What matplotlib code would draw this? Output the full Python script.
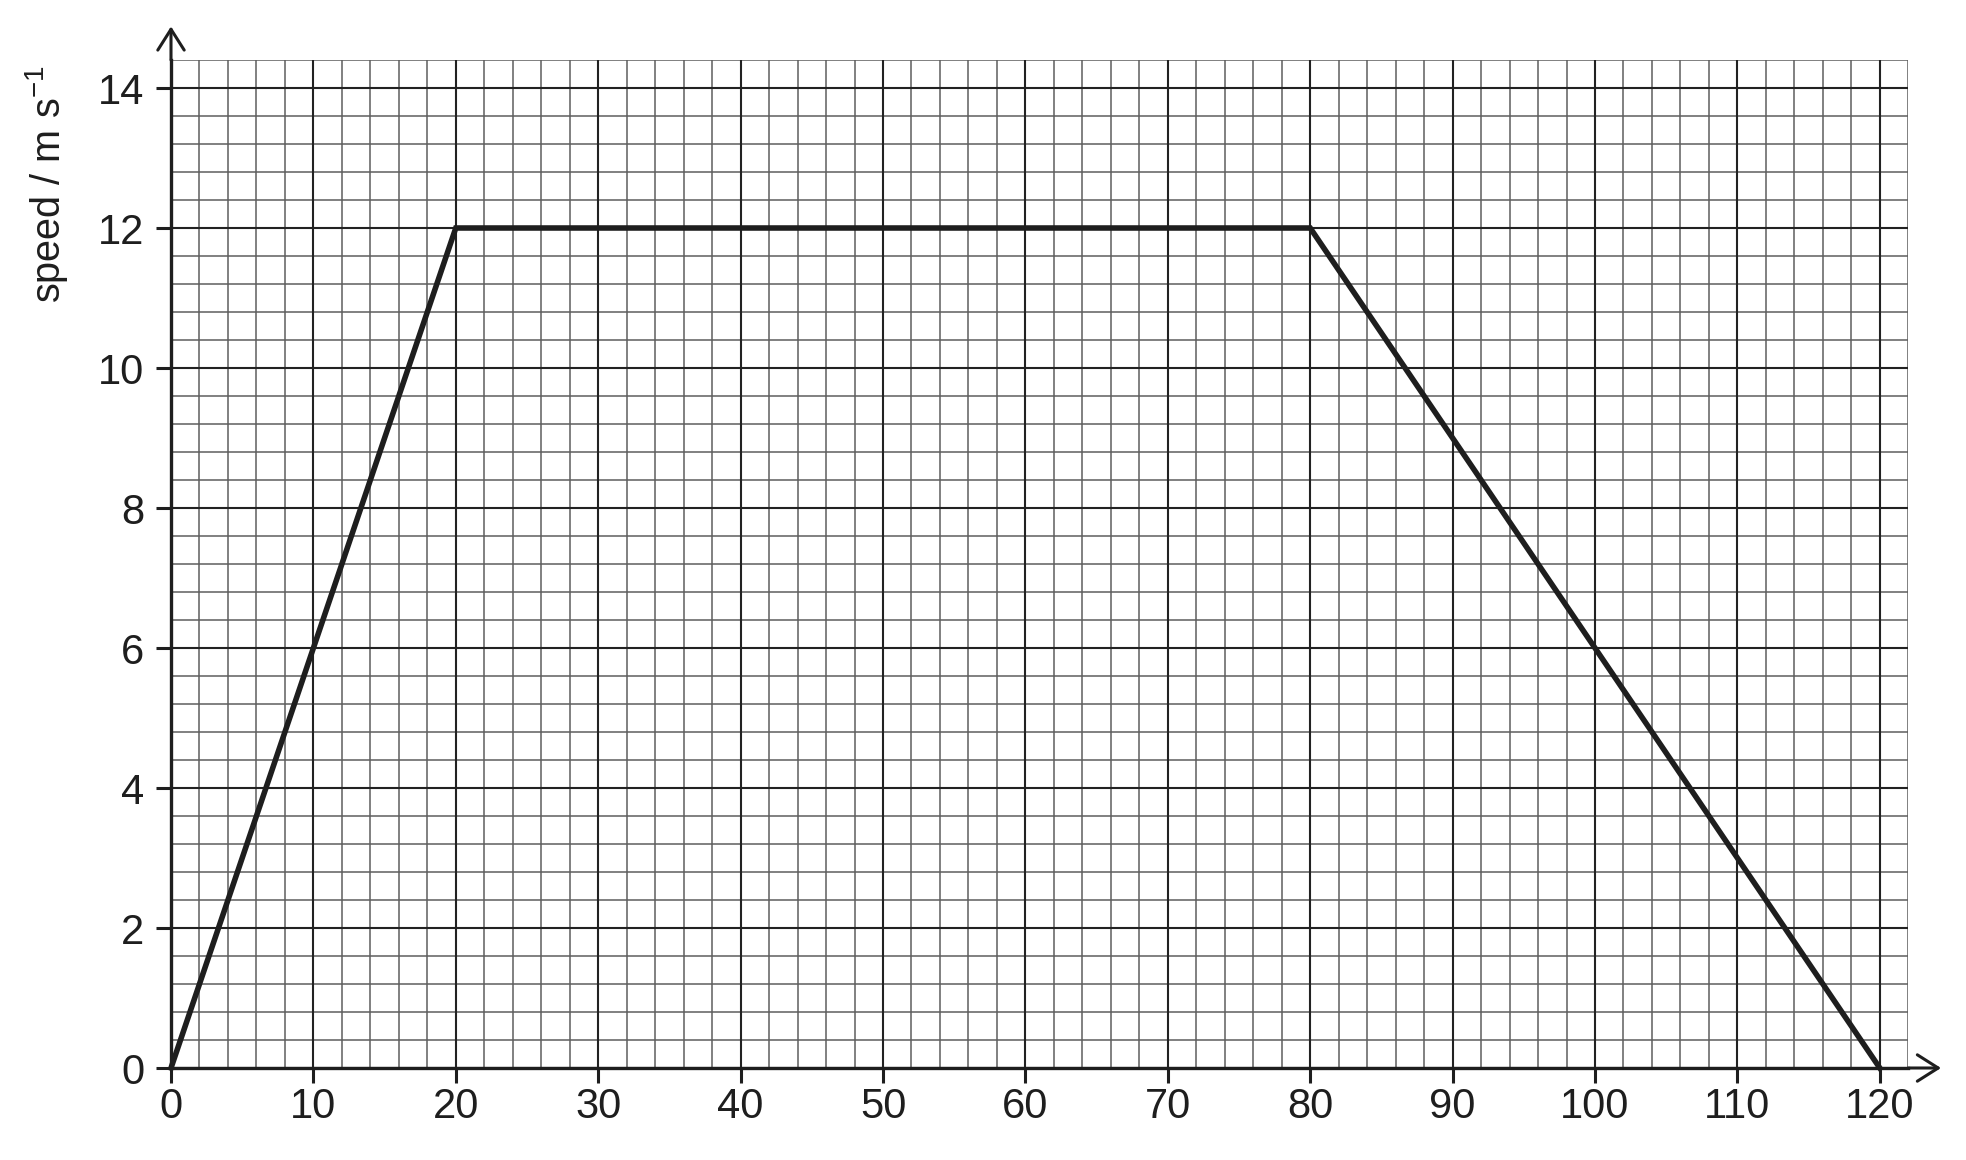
import matplotlib
matplotlib.use("Agg")
import matplotlib.pyplot as plt
import numpy as np

# data
time_s = [0, 20, 80, 120]
speed_ms = [0, 12, 12, 0]
x_ticks = [0, 10, 20, 30, 40, 50, 60, 70, 80, 90, 100, 110, 120]
y_ticks = [0, 2, 4, 6, 8, 10, 12, 14]
y_label = "speed / m s$^{\\mathregular{-1}}$"

plt.rcParams['font.family'] = ['Liberation Sans', 'DejaVu Sans']
plt.rcParams['mathtext.fontset'] = 'custom'
plt.rcParams['mathtext.rm'] = 'Liberation Sans'
plt.rcParams['mathtext.it'] = 'Liberation Sans'

W, H = 1966, 1160
fig = plt.figure(figsize=(W / 100, H / 100), dpi=100)
x0, y0 = 171, 1068
px_x = 14.24
px_y = 70.0
xmax, ymax = 122, 14.4
ax = fig.add_axes([x0 / W, (H - y0) / H, xmax * px_x / W, ymax * px_y / H])
ax.set_xlim(0, xmax)
ax.set_ylim(0, ymax)

# grid
minor_col = '#5e5e5e'
major_col = '#222222'
for xv in np.arange(0, xmax + 0.01, 2):
    if xv % 10 == 0:
        ax.axvline(xv, color=major_col, lw=1.5, zorder=1)
    else:
        ax.axvline(xv, color=minor_col, lw=1.1, zorder=0.5)
for yv in np.arange(0, ymax + 0.01, 0.4):
    if abs(yv / 2 - round(yv / 2)) < 1e-6:
        ax.axhline(yv, color=major_col, lw=1.5, zorder=1)
    else:
        ax.axhline(yv, color=minor_col, lw=1.1, zorder=0.5)

ax.plot(time_s, speed_ms, color='#1e1e1e', lw=4.0, solid_joinstyle='miter',
        zorder=3, clip_on=False)

for s in ['top', 'right']:
    ax.spines[s].set_visible(False)
for s in ['left', 'bottom']:
    ax.spines[s].set_linewidth(2.4)
    ax.spines[s].set_color('#1e1e1e')
    ax.spines[s].set_zorder(4)

ax.set_xticks(x_ticks)
ax.set_yticks(y_ticks)
ax.set_xticklabels([str(v) for v in x_ticks])
ax.set_yticklabels([str(v) for v in y_ticks])
ax.tick_params(axis='both', which='major', direction='out', length=11,
               width=2.2, color='#1e1e1e', labelsize=30, labelcolor='#1e1e1e')
ax.tick_params(axis='x', pad=3)
ax.tick_params(axis='y', pad=8)

# axis arrows
arrow_kw = dict(arrowstyle='->,head_length=1.5,head_width=0.95', lw=2.2,
                color='#1e1e1e', mutation_scale=10, shrinkA=0, shrinkB=0)
ax.annotate('', xy=(0, 14.88), xytext=(0, ymax), xycoords='data',
            arrowprops=arrow_kw, annotation_clip=False)
ax.annotate('', xy=(124.3, 0), xytext=(xmax, 0), xycoords='data',
            arrowprops=arrow_kw, annotation_clip=False)

fig.text(46 / W, 1 - 184 / H, y_label, rotation=90, ha='center', va='center',
         fontsize=28.5, color='#1e1e1e')

fig.savefig('out.png', dpi=100, facecolor='white')
